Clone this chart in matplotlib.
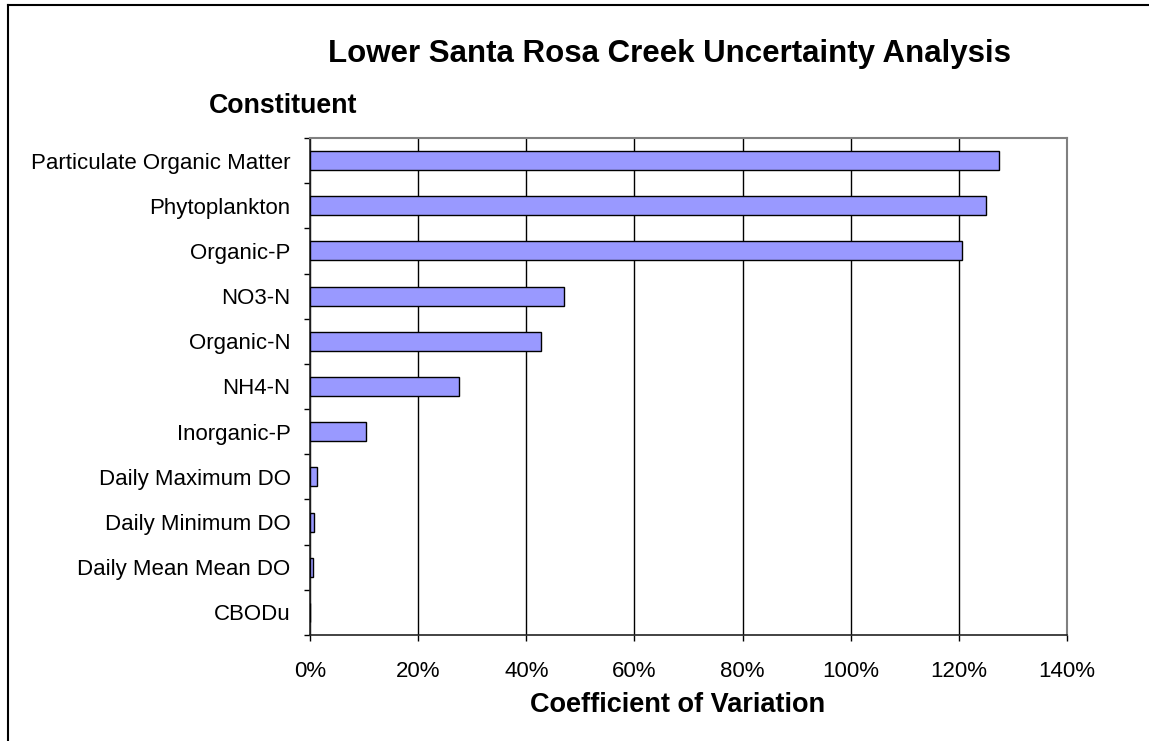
import matplotlib
matplotlib.use("Agg")
import matplotlib.pyplot as plt
from matplotlib.ticker import FixedLocator, FuncFormatter
from matplotlib.lines import Line2D
import numpy as np

plt.rcParams['font.family'] = ['Liberation Sans', 'DejaVu Sans']

constituents = ["Particulate Organic Matter", "Phytoplankton", "Organic-P", "NO3-N",
                "Organic-N", "NH4-N", "Inorganic-P", "Daily Maximum DO",
                "Daily Minimum DO", "Daily Mean Mean DO", "CBODu"]
cv_percent = [127.5, 125.1, 120.6, 46.9, 42.8, 27.5, 10.3, 1.3, 0.8, 0.5, 0.0]
x_ticks = [0, 20, 40, 60, 80, 100, 120, 140]

W, H = 1149, 741
fig = plt.figure(figsize=(W / 100, H / 100), dpi=100)
fig.patch.set_facecolor('white')

left, right, top, bottom = 310, 1067, 138, 635
ax = fig.add_axes([left / W, 1 - bottom / H, (right - left) / W, (bottom - top) / H])

n = len(constituents)
ypos = np.arange(n)
ax.barh(ypos, cv_percent, height=0.42, color='#9999FF', edgecolor='black',
        linewidth=1.0, zorder=3)

ax.set_xlim(0, 140)
ax.set_ylim(n - 0.5, -0.5)

ax.set_xticks(x_ticks)
ax.xaxis.set_major_formatter(FuncFormatter(lambda v, p: f"{int(round(v))}%"))
ax.tick_params(axis='x', which='major', length=4.5, width=1.0, pad=14,
               labelsize=16, color='black', direction='out')

ax.set_yticks(ypos)
ax.set_yticklabels(constituents)
ax.tick_params(axis='y', which='major', length=0, pad=14, labelsize=16)
ax.yaxis.set_minor_locator(FixedLocator(np.arange(-0.5, n, 1.0)))
ax.tick_params(axis='y', which='minor', length=4.5, width=1.0, color='black',
               direction='out')

ax.grid(axis='x', color='black', linewidth=1.0, zorder=0)
ax.set_axisbelow(True)

for s in ['left', 'bottom']:
    ax.spines[s].set_color('#222222')
    ax.spines[s].set_linewidth(1.2)
for s in ['top', 'right']:
    ax.spines[s].set_color('#808080')
    ax.spines[s].set_linewidth(1.5)

fig.text(669.5 / W, 1 - 62 / H, "Lower Santa Rosa Creek Uncertainty Analysis",
         ha='center', va='baseline', fontsize=22.5, fontweight='bold')
fig.text(209 / W, 1 - 113 / H, "Constituent", ha='left', va='baseline',
         fontsize=19.3, fontweight='bold')
fig.text(677.5 / W, 1 - 712 / H, "Coefficient of Variation", ha='center',
         va='baseline', fontsize=19.5, fontweight='bold')

# outer border (top and left)
fig.add_artist(Line2D([8 / W, 8 / W], [0, 1 - 5 / H], transform=fig.transFigure,
                      color='black', linewidth=1.5))
fig.add_artist(Line2D([8 / W, 1], [1 - 5 / H, 1 - 5 / H], transform=fig.transFigure,
                      color='black', linewidth=1.5))

fig.savefig("out.png", dpi=100, facecolor='white')
